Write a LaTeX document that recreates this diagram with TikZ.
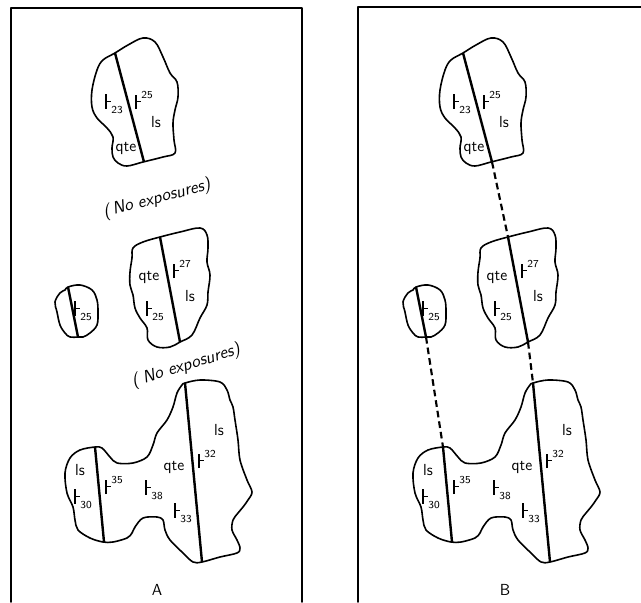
\documentclass[tikz,border=0pt]{standalone}
\usepackage{amsmath, amssymb}
\usepackage{tikz}
\usepackage{xcolor}

\newcommand{\sdsym}{\rule[-0.1em]{1pt}{0.9em}\kern-0.5pt\rule[0.32em]{0.35em}{1pt}}
\newcommand{\sdsub}[1]{\sdsym\raisebox{-0.4em}{\footnotesize #1}}
\newcommand{\sdsup}[1]{\sdsym\raisebox{0.6em}{\footnotesize #1}}

\tikzset{
  frameline/.style={line width=1.4pt, line cap=round, line join=round},
  outcrop/.style={line width=1.2pt, line join=round},
  contact/.style={line width=1.8pt},
  contactlink/.style={line width=1.6pt, dash pattern=on 5pt off 3pt},
  lbl/.style={inner sep=0.75pt, font=\sffamily\fontsize{12}{14}\selectfont},
  note/.style={inner sep=0pt, font=\sffamily\itshape\fontsize{13}{15}\selectfont},
  panellbl/.style={inner sep=0.75pt, font=\sffamily\fontsize{12}{14}\selectfont}
}

\begin{document}
\begin{tikzpicture}[x=0.75pt,y=0.75pt,yscale=-1,xscale=1]
    \useasboundingbox (0,0) rectangle (641,602);

    %Shape: Frames
    \draw [frameline] (11,602) -- (11,8) -- (302,8) -- (302,602) ;
    \draw [frameline] (358,602) -- (358,7) -- (641,7) ;

    \foreach \dx/\p in {0/A,348/B}{
    \begin{scope}[shift={(\dx,0)}]
    %Shape: Outcrop 1
    \draw [outcrop] plot [smooth cycle, tension=0.6] coordinates {(115,53) (128,45) (143,38) (155,42) (163,57) (170,73) (177,82) (178,97) (175,110) (173,123) (174,140) (175,153) (163,157) (143,162) (127,166) (118,163) (113,157) (112,148) (113,137) (107,128) (97,118) (92,107) (92,90) (97,70) (103,60)};
    \coordinate (c1t-\p) at (115,53);
    \coordinate (c1b-\p) at (144,162);
    \draw [contact] (c1t-\p) -- (c1b-\p) ;
    %Shape: Outcrop 2
    \draw [outcrop] plot [smooth cycle, tension=0.6] coordinates {(133,248) (143,242) (160,237) (180,232) (200,228) (207,235) (208,248) (207,262) (210,275) (208,292) (207,305) (200,318) (192,335) (180,342) (170,347) (157,347) (148,340) (147,328) (140,318) (135,308) (133,295) (130,285) (130,272) (132,258)};
    \coordinate (c2t-\p) at (160,237);
    \coordinate (c2b-\p) at (180,342);
    \draw [contact] (c2t-\p) -- (c2b-\p) ;
    %Shape: Outcrop 3
    \draw [outcrop] plot [smooth cycle, tension=0.6] coordinates {(68,287) (80,285) (92,290) (97,300) (98,312) (97,325) (90,333) (83,337) (78,337) (70,337) (65,333) (60,325) (57,312) (55,302) (60,293) (65,290)};
    \coordinate (c3t-\p) at (68,287);
    \coordinate (c3b-\p) at (78,337);
    \draw [contact] (c3t-\p) -- (c3b-\p) ;
    %Shape: Outcrop 4
    \draw [outcrop] plot [smooth cycle, tension=0.55] coordinates {(185,383) (200,380) (220,382) (227,390) (230,400) (233,407) (235,420) (238,440) (240,460) (247,480) (252,492) (248,500) (243,507) (238,513) (233,520) (232,530) (237,540) (240,548) (237,553) (220,557) (202,562) (193,562) (183,553) (170,540) (165,530) (163,520) (157,517) (143,518) (135,527) (132,533) (127,538) (113,542) (103,542) (90,538) (78,530) (75,520) (73,507) (67,493) (65,473) (70,458) (80,450) (95,447) (102,448) (110,457) (117,463) (133,463) (147,457) (153,445) (157,433) (167,420) (173,407) (177,393) (182,385)};
    \coordinate (c4t-\p) at (185,383);
    \coordinate (c4b-\p) at (202,562);
    \coordinate (c5t-\p) at (95,447);
    \coordinate (c5b-\p) at (104,542);
    \draw [contact] (c4t-\p) -- (c4b-\p) ;
    \draw [contact] (c5t-\p) -- (c5b-\p) ;

    % Text Node
    \node [lbl] (o1a-\p) at (114,104) {\sdsub{23}};
    \node [lbl] (o1b-\p) at (144,100) {\sdsup{25}};
    \node [lbl] (o1c-\p) at (156,122) {ls};
    \node [lbl] (o1d-\p) at (126,148) {qte};
    % Text Node
    \node [lbl] (o2a-\p) at (149,277) {qte};
    \node [lbl] (o2b-\p) at (182,269) {\sdsup{27}};
    \node [lbl] (o2c-\p) at (190,296) {ls};
    \node [lbl] (o2d-\p) at (155,311) {\sdsub{25}};
    % Text Node
    \node [lbl] (o3a-\p) at (83,311) {\sdsub{25}};
    % Text Node
    \node [lbl] (o4a-\p) at (80,470) {ls};
    \node [lbl] (o4b-\p) at (83,499) {\sdsub{30}};
    \node [lbl] (o4c-\p) at (114,485) {\sdsup{35}};
    \node [lbl] (o4d-\p) at (174,467) {qte};
    \node [lbl] (o4e-\p) at (154,490) {\sdsub{38}};
    \node [lbl] (o4f-\p) at (183,513) {\sdsub{33}};
    \node [lbl] (o4g-\p) at (207,459) {\sdsup{32}};
    \node [lbl] (o4h-\p) at (219,430) {ls};
    % Text Node
    \node [panellbl] (name-\p) at (157,590) {\p};
    \end{scope}
    }

    % Text Node
    \node [note, rotate=15] (gap1) at (157,199) {(\,No exposures)};
    \node [note, rotate=17] (gap2) at (186,366) {(\;No exposures)};

    %Straight Lines: correlation
    \draw [contactlink] (c1b-B) -- (c2t-B) ;
    \draw [contactlink] (c2b-B) -- (c4t-B) ;
    \draw [contactlink] (c3b-B) -- (c5t-B) ;

\end{tikzpicture}
\end{document}
